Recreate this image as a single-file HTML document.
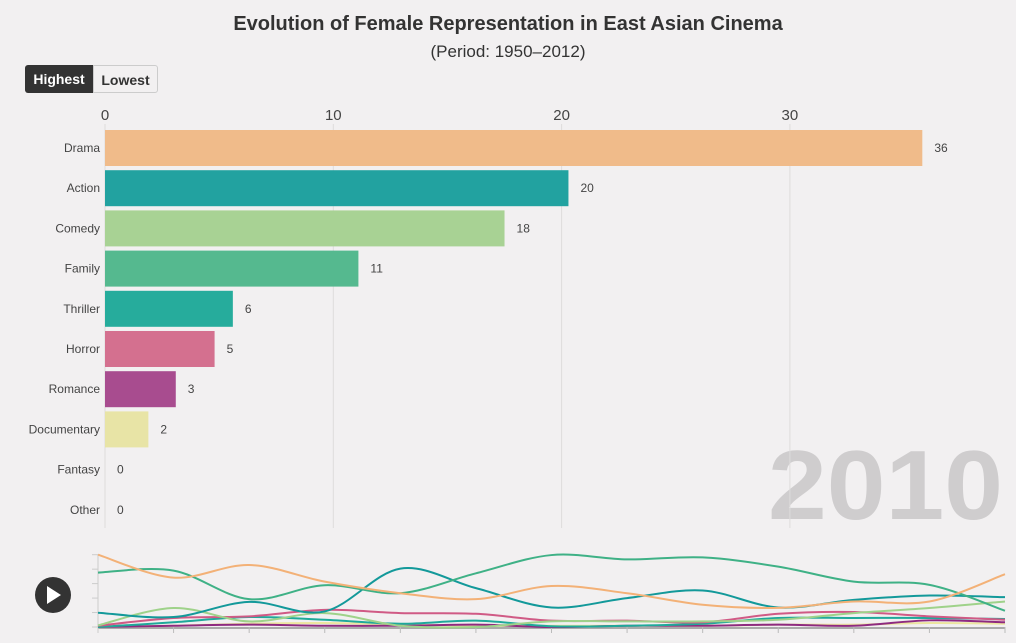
<!DOCTYPE html>
<html><head><meta charset="utf-8">
<style>
html,body{margin:0;padding:0;background:#f2f0f1;}
body{width:1016px;height:643px;overflow:hidden;font-family:"Liberation Sans",sans-serif;position:relative;}
#title{position:absolute;top:13px;left:0;width:1016px;text-align:center;font-size:20px;font-weight:bold;color:#333;}
#sub{position:absolute;top:42px;left:0;width:1016px;text-align:center;font-size:17px;color:#333;}
.btn{position:absolute;top:65px;height:28px;line-height:28px;font-size:14px;font-weight:bold;text-align:center;box-sizing:border-box;}
#hi{left:25px;width:68px;background:#333;color:#fff;border-radius:3px 0 0 3px;}
#lo{left:93px;width:65px;background:#f2f0f1;color:#333;border:1px solid #ccc;border-radius:0 3px 3px 0;}
svg{position:absolute;left:0;top:0;}
</style></head><body>
<div id="title">Evolution of Female Representation in East Asian Cinema</div>
<div id="sub">(Period: 1950–2012)</div>
<div class="btn" id="hi">Highest</div>
<div class="btn" id="lo">Lowest</div>
<svg id="chart" width="1016" height="643"></svg>
<script>
const categories=["Drama","Action","Comedy","Family","Thriller","Horror","Romance","Documentary","Fantasy","Other"];
const values=[35.8,20.3,17.5,11.1,5.6,4.8,3.1,1.9,0,0];
const colors=["#f0bb8a","#22a2a0","#a8d294","#55b98f","#26ac9c","#d4708f","#a84c8f","#e8e4a6","#dddddd","#cccccc"];
const xTicks=[0,10,20,30];
const year="2010";
// timeline series (13 samples 1950..2012)
const tlDrama=[40,27.3,34.3,25.1,18.7,15.4,22.7,18.7,12.3,10.6,14.1,14.1,29.2];
const tlFamily=[30.1,31.2,15.4,23.1,18.7,29.7,39.8,37.4,38.5,33.4,25.1,23.3,9.0];
const tlAction=[7.9,5.5,13.9,8.6,32.3,21.5,10.8,16,20.2,10.8,15,17.4,16.5];
const tlComedy=[0.9,10.5,3.1,7.7,0.7,0,3.1,3.1,3.1,4,7.7,10.5,14.1];
const tlHorror=[0.7,5,5.9,9.5,7.7,7.3,3.5,3.5,2.6,7.3,8.3,5.9,4.0];
const tlThriller=[0,2.6,5.5,4,1.8,3.5,0.4,0.7,1.8,5,5,5,4.4];
const tlRomance=[0,0.7,1.3,0.7,0.7,1.3,0,0.7,0.7,1.3,0.7,3.7,2.6];
const tlDoc=[0,0.7,1.8,2.2,1.3,0.7,0.7,0.7,0.7,1.3,1.3,2.2,1.8];

const NS="http://www.w3.org/2000/svg";
const svg=document.getElementById('chart');
function mk(t,a,p){const e=document.createElementNS(NS,t);for(const k in a)e.setAttribute(k,a[k]);(p||svg).appendChild(e);return e;}
const x0=105,pxPer=22.83;
const xs=v=>x0+v*pxPer;
const rowY=i=>130+i*40.2;
const bandH=36;
// year watermark
const yr=mk('text',{x:768,y:519,'font-size':98,'font-weight':'bold',fill:'#cfcdce',textLength:235,lengthAdjust:'spacingAndGlyphs'});
yr.textContent=year;


// gridlines & ticks
xTicks.forEach(t=>{
  const l=mk('line',{x1:xs(t),x2:xs(t),y1:124,y2:528,stroke:'#dedcdc','stroke-width':1});
  
  
  const tx=mk('text',{x:xs(t),y:120,'text-anchor':'middle','font-size':15,fill:'#444'});
  tx.textContent=t;
  
  
});
categories.forEach((c,i)=>{
  const y=rowY(i);
  const r=mk('rect',{x:x0,y:y,width:Math.max(0,xs(values[i])-x0),height:bandH,fill:colors[i]});
  
  
  const lb=mk('text',{x:100,y:y+bandH/2+4,'text-anchor':'end','font-size':12,fill:'#444'});
  lb.textContent=c;
  
  
  const v=mk('text',{x:xs(values[i])+12,y:y+bandH/2+4,'font-size':12,fill:'#444'});
  v.textContent=Math.round(values[i]);
  
  
});
// timeline
const tx0=98,tx1=1005,ty0=627,ty1=554.7,tmax=40;
const n=13;
const tX=i=>tx0+(tx1-tx0)*i/(n-1);
const tY=v=>ty0-(ty0-ty1)*v/tmax;
const ax=mk('line',{x1:tx0,x2:tx1,y1:ty0+1,y2:ty0+1,stroke:'#aaa','stroke-width':2});


for(let i=0;i<n;i++){const t=mk('line',{x1:tX(i),x2:tX(i),y1:ty0,y2:ty0+6,stroke:'#bbb'});

}
for(let k=0;k<=5;k++){const t=mk('line',{x1:tx0-6,x2:tx0,y1:tY(k*8),y2:tY(k*8),stroke:'#ccc'});

}
mk('line',{x1:tx0,x2:tx0,y1:ty1,y2:ty0+6,stroke:'#ccc'});
function path(arr){
  const p=arr.map((v,i)=>[tX(i),tY(v)]);
  let d='M'+p[0][0]+','+p[0][1];
  for(let i=0;i<p.length-1;i++){
    const a=p[Math.max(0,i-1)],b=p[i],c=p[i+1],e=p[Math.min(p.length-1,i+2)];
    const c1=[b[0]+(c[0]-a[0])/6,b[1]+(c[1]-a[1])/6],c2=[c[0]-(e[0]-b[0])/6,c[1]-(e[1]-b[1])/6];
    d+=`C${c1[0]},${c1[1]} ${c2[0]},${c2[1]} ${c[0]},${c[1]}`;
  }
  return d;
}
[[tlDoc,'#ece6a0','documentary'],[tlRomance,'#8e2a80','romance'],[tlThriller,'#1fa99a','thriller'],[tlHorror,'#d05a85','horror'],[tlComedy,'#9fd28a','comedy'],[tlAction,'#13999a','action'],[tlFamily,'#3fb186','family'],[tlDrama,'#f3b177','drama']].forEach(s=>{
  const l=mk('path',{d:path(s[0]),fill:'none',stroke:s[1],'stroke-width':2});
  
  
});
const pb=mk('g',{});


mk('circle',{cx:53,cy:595,r:18,fill:'#333'},pb);
mk('path',{d:'M47,586 L61,595 L47,604 Z',fill:'#fff'},pb);
</script>
</body></html>
